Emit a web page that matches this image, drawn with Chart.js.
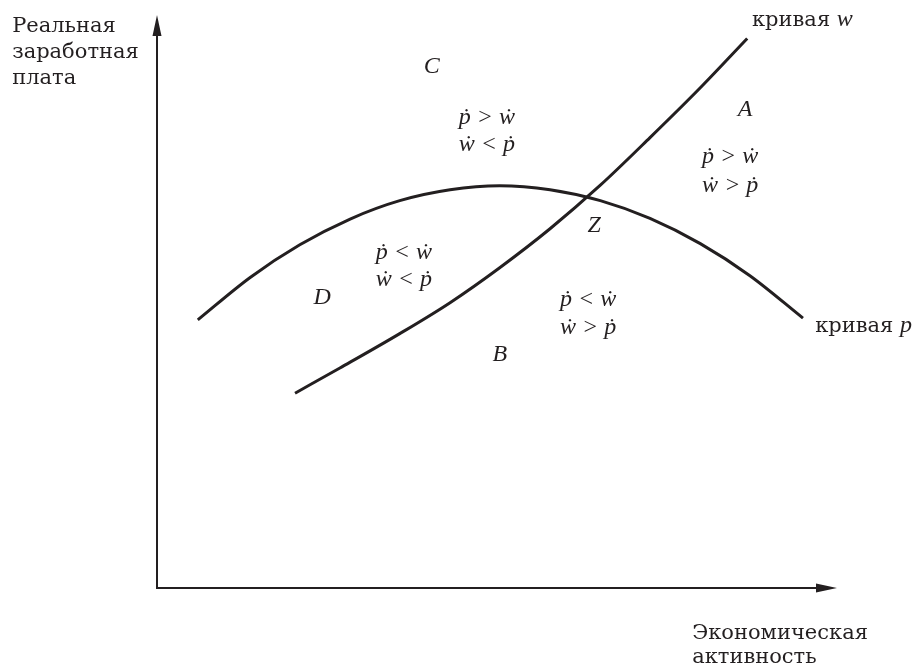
<!DOCTYPE html>
<html><head><meta charset="utf-8">
<script src="https://cdn.jsdelivr.net/npm/chart.js@4/dist/chart.umd.min.js"></script>
<style>html,body{margin:0;padding:0;background:#fff}canvas{display:block}</style>
</head><body>
<canvas id="c" width="920" height="664"></canvas>
<script>
// ---- data (abstract units: axes run 0..100) ----
const wCurveX = [20.3, 26.9, 35.7, 43.1, 50.4, 57.8, 65.2, 72.5, 79.9, 86.8];
const wCurveY = [34.0, 38.4, 44.4, 49.8, 55.9, 62.7, 70.3, 78.6, 87.3, 95.9];
const pCurveX = [6.0, 13.7, 21.0, 28.4, 35.7, 43.1, 50.4, 57.8, 65.2, 72.5, 79.9, 87.2, 95.0];
const pCurveY = [46.8, 54.2, 59.9, 64.4, 67.6, 69.5, 70.2, 69.5, 67.6, 64.5, 60.1, 54.5, 47.1];
const axisMax = 100;

const regionLetters = ['C', 'A', 'Z', 'D', 'B'];
const regionLetterX = [40.4, 86.5, 64.3, 24.3, 50.4];
const regionLetterY = [90.9, 83.4, 63.2, 50.6, 40.8];

const relationText = [['ṗ > ẇ', 'ẇ < ṗ'], ['ṗ > ẇ', 'ẇ > ṗ'], ['ṗ < ẇ', 'ẇ < ṗ'], ['ṗ < ẇ', 'ẇ > ṗ']];
const relationX = [48.5, 84.3, 36.3, 63.4];
const relationY = [[82.0, 77.3], [75.2, 70.3], [58.6, 53.8], [50.3, 45.4]];

const yAxisTitle = ['Реальная', 'заработная', 'плата'];
const yAxisTitleX = -21.3;
const yAxisTitleY = [97.0, 92.5, 88.0];
const xAxisTitle = ['Экономическая', 'активность'];
const xAxisTitleX = 78.7;
const xAxisTitleY = [-8.9, -13.1];
const wCurveLabel = ['кривая ', 'w'];
const wLabelPos = [87.5, 98.1];
const pCurveLabel = ['кривая ', 'p'];
const pLabelPos = [96.8, 44.7];

const INK = '#231f20';
const toPts = (xs, ys) => xs.map((x, i) => ({x, y: ys[i]}));

const overlay = {
  id: 'overlay',
  afterDatasetsDraw(chart) {
    const {ctx, scales: {x, y}} = chart;
    const X = v => x.getPixelForValue(v), Y = v => y.getPixelForValue(v);
    ctx.save();
    ctx.strokeStyle = INK; ctx.fillStyle = INK; ctx.lineWidth = 2;
    const ox = X(0), oy = Y(0), tx = X(axisMax), ty = Y(axisMax);
    const L = 21, H = 4.5;
    ctx.beginPath();
    ctx.moveTo(ox, ty + L - 2); ctx.lineTo(ox, oy); ctx.lineTo(tx - L + 2, oy);
    ctx.stroke();
    ctx.beginPath(); ctx.moveTo(ox, ty); ctx.lineTo(ox - H, ty + L); ctx.lineTo(ox + H, ty + L); ctx.closePath(); ctx.fill();
    ctx.beginPath(); ctx.moveTo(tx, oy); ctx.lineTo(tx - L, oy - H); ctx.lineTo(tx - L, oy + H); ctx.closePath(); ctx.fill();

    // texts
    ctx.textBaseline = 'alphabetic'; ctx.textAlign = 'left';
    ctx.font = '21px "DejaVu Serif"';
    yAxisTitle.forEach((t, i) => ctx.fillText(t, X(yAxisTitleX), Y(yAxisTitleY[i])));
    xAxisTitle.forEach((t, i) => ctx.fillText(t, X(xAxisTitleX), Y(xAxisTitleY[i])));
    const drawCurveLabel = (parts, pos) => {
      ctx.font = '21px "DejaVu Serif"';
      const px = X(pos[0]), py = Y(pos[1]);
      ctx.fillText(parts[0], px, py);
      const w = ctx.measureText(parts[0]).width;
      ctx.font = 'italic 24px "Liberation Serif"';
      ctx.fillText(parts[1], px + w, py);
    };
    drawCurveLabel(wCurveLabel, wLabelPos);
    drawCurveLabel(pCurveLabel, pLabelPos);

    ctx.textAlign = 'center'; ctx.textBaseline = 'middle';
    ctx.font = 'italic 24px "Liberation Serif"';
    regionLetters.forEach((t, i) => ctx.fillText(t, X(regionLetterX[i]), Y(regionLetterY[i])));
    ctx.font = 'italic 24px "Liberation Serif"';
    relationText.forEach((pair, i) => pair.forEach((t, j) => ctx.fillText(t, X(relationX[i]), Y(relationY[i][j]))));
    ctx.restore();
  }
};

new Chart(document.getElementById('c'), {
  type: 'scatter',
  data: {
    datasets: [
      {label: 'кривая w', data: toPts(wCurveX, wCurveY)},
      {label: 'кривая p', data: toPts(pCurveX, pCurveY)}
    ].map(d => Object.assign(d, {showLine: true, borderColor: INK, borderWidth: 3, pointRadius: 0, cubicInterpolationMode: 'monotone', borderCapStyle: 'butt'}))
  },
  options: {
    responsive: false, animation: false,
    layout: {padding: 0},
    plugins: {legend: {display: false}, tooltip: {enabled: false}},
    scales: {
      x: {type: 'linear', display: false, min: -23.09, max: 112.21},
      y: {type: 'linear', display: false, min: -13.26, max: 102.62}
    }
  },
  plugins: [overlay]
});
</script>
</body></html>
